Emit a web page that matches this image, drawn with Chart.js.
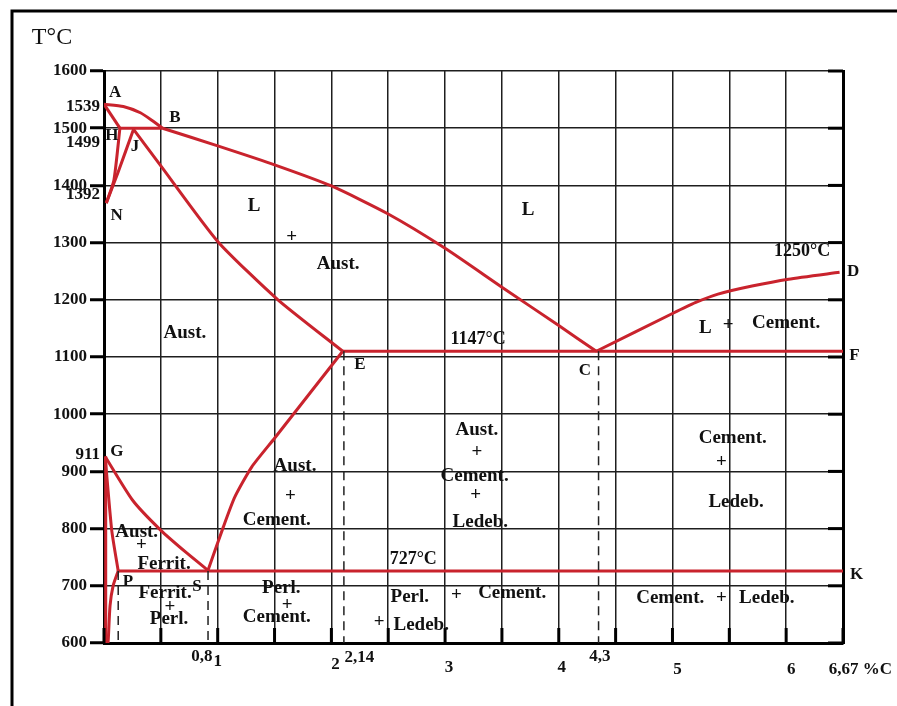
<!DOCTYPE html>
<html lang="en">
<head>
<meta charset="UTF-8">
<title>Fe - Fe3C diagram</title>
<script src="https://cdn.jsdelivr.net/npm/chart.js"></script>
<style>
  html, body { margin: 0; padding: 0; background: #fff; }
  canvas { display: block; }
</style>
</head>
<body>
<canvas id="phaseChart" width="897" height="706"></canvas>
<script>
// curves: [carbon %, temperature]
const lineAB = [[0, 1542], [0.17, 1538], [0.32, 1527], [0.42, 1514], [0.515, 1500]];
const lineAH = [[0, 1542], [0.14, 1500]];
const lineHB = [[0.14, 1500], [0.515, 1500]];
const lineHN = [[0.14, 1500], [0.087, 1409], [0.02, 1369]];
const lineJN = [[0.26, 1498], [0.12, 1421], [0.02, 1369]];
const lineJE = [[0.26, 1498], [0.5, 1434], [1.0, 1302], [1.53, 1200], [2.1, 1110]];
const lineBC = [[0.515, 1500], [1.0, 1469], [1.5, 1436], [2.0, 1399], [2.5, 1350], [3.0, 1290], [3.5, 1222], [4.0, 1155], [4.33, 1110]];
const lineCD = [[4.33, 1110], [5.0, 1176], [5.2, 1195], [5.4, 1210], [5.7, 1224], [6.02, 1236], [6.47, 1248]];
const lineEF = [[2.1, 1110], [6.5, 1110]];
const lineES = [[2.1, 1110], [1.5, 958], [1.3, 908], [1.15, 855], [1.05, 803], [0.915, 727]];
const lineGS = [[0.01, 926], [0.25, 850], [0.5, 797], [0.73, 757], [0.915, 727]];
const lineGP = [[0.01, 926], [0.068, 797], [0.125, 726]];
const linePQ = [[0.125, 726], [0.08, 700], [0.053, 665], [0.038, 607], [0.035, 600]];
const lineG0 = [[0.015, 926], [0.015, 600]];
const linePK = [[0.125, 726], [6.5, 726]];

// dashed drops to the axis
const dropX = [0.125, 0.915, 2.11, 4.35];
const dropTop = [726, 726, 1110, 1110];

// tick labels
const tempSpecial = [1539, 1499, 1392, 911];
const carbonValues = [0.8, 1, 2, 2.14, 3, 4, 4.3, 5, 6, 6.67];
const carbonLabels = ['0,8', '1', '2', '2,14', '3', '4', '4,3', '5', '6', '6,67 %C'];

// text in the fields: [text, carbon %, temperature, kind]
const fieldText = [
  ['A', 0.097, 1562, 'pt'], ['B', 0.624, 1518, 'pt'], ['H', 0.07, 1487, 'pt'], ['J', 0.273, 1468, 'pt'],
  ['N', 0.112, 1348, 'pt'], ['D', 6.59, 1249, 'pt'], ['F', 6.6, 1103, 'pt'], ['E', 2.25, 1086, 'pt'],
  ['C', 4.23, 1076, 'pt'], ['G', 0.114, 934, 'pt'], ['K', 6.62, 719, 'pt'], ['P', 0.211, 707, 'pt'],
  ['S', 0.818, 698, 'pt'],
  ['1250°C', 6.14, 1284, 't'], ['1147°C', 3.29, 1131, 't'], ['727°C', 2.72, 747, 't'],
  ['L', 1.32, 1364, 'w'], ['+', 1.65, 1310, 'w'], ['Aust.', 2.06, 1263, 'w'],
  ['L', 3.73, 1357, 'w'],
  ['Aust.', 0.712, 1142, 'w'],
  ['L', 5.29, 1151, 'w'], ['+', 5.49, 1156, 'w'], ['Cement.', 6.0, 1160, 'w'],
  ['Aust.', 3.28, 972, 'w'], ['+', 3.28, 934, 'w'], ['Cement.', 3.26, 891, 'w'], ['+', 3.27, 859, 'w'], ['Ledeb.', 3.31, 812, 'w'],
  ['Cement.', 5.53, 959, 'w'], ['+', 5.43, 917, 'w'], ['Ledeb.', 5.56, 847, 'w'],
  ['Aust.', 1.68, 909, 'w'], ['+', 1.64, 857, 'w'], ['Cement.', 1.52, 814, 'w'],
  ['Aust.', 0.288, 794, 'w'], ['+', 0.33, 771, 'w'], ['Ferrit.', 0.528, 738, 'w'],
  ['Ferrit.', 0.537, 687, 'w'], ['+', 0.58, 663, 'w'], ['Perl.', 0.572, 642, 'w'],
  ['Perl.', 1.56, 696, 'w'], ['+', 1.61, 666, 'w'], ['Cement.', 1.52, 646, 'w'],
  ['Perl.', 2.69, 680, 'w'], ['+', 3.1, 684, 'w'], ['Cement.', 3.59, 688, 'w'],
  ['+', 2.42, 636, 'w'], ['Ledeb.', 2.79, 631, 'w'],
  ['Cement.', 4.98, 679, 'w'], ['+', 5.43, 679, 'w'], ['Ledeb.', 5.83, 679, 'w']
];

const red = '#c9232d';
const serif = '"Liberation Serif", "DejaVu Serif", serif';

function toPoints(arr) {
  return arr.map(p => ({ x: p[0], y: p[1] }));
}

function redLine(arr, tension) {
  return {
    data: toPoints(arr),
    showLine: true,
    borderColor: red,
    borderWidth: 3,
    pointRadius: 0,
    tension: tension || 0
  };
}

const datasets = [];
dropX.forEach((x, i) => {
  datasets.push({
    data: [{ x: x, y: dropTop[i] }, { x: x, y: 600 }],
    showLine: true,
    borderColor: '#222',
    borderWidth: 1.5,
    borderDash: [9, 6],
    pointRadius: 0
  });
});
datasets.push(
  redLine(lineAB, 0.2), redLine(lineAH), redLine(lineHB), redLine(lineHN, 0.2), redLine(lineJN, 0.1),
  redLine(lineJE, 0.2), redLine(lineBC, 0.2), redLine(lineCD, 0.2), redLine(lineEF),
  redLine(lineES, 0.2), redLine(lineGS, 0.2), redLine(lineGP, 0.2), redLine(linePQ, 0.2),
  redLine(lineG0), redLine(linePK)
);

// frame, title, inner tick marks and all free text
const extras = {
  id: 'extras',
  beforeDraw(chart) {
    const ctx = chart.ctx;
    ctx.save();
    ctx.fillStyle = '#fff';
    ctx.fillRect(0, 0, chart.width, chart.height);
    ctx.strokeStyle = '#000';
    ctx.lineWidth = 3;
    ctx.beginPath();
    ctx.moveTo(12, chart.height);
    ctx.lineTo(12, 11);
    ctx.lineTo(chart.width, 11);
    ctx.stroke();
    ctx.fillStyle = '#111';
    ctx.font = '24px ' + serif;
    ctx.textAlign = 'center';
    ctx.textBaseline = 'middle';
    ctx.fillText('T°C', 52, 38);
    ctx.restore();
  },
  afterDraw(chart) {
    const ctx = chart.ctx;
    const xs = chart.scales.x, ys = chart.scales.y;
    const area = chart.chartArea;
    ctx.save();
    ctx.strokeStyle = '#000';
    // short marks inside the bottom and right edges
    ctx.lineWidth = 3;
    xs.ticks.forEach(t => {
      const px = xs.getPixelForValue(t.value);
      ctx.beginPath();
      ctx.moveTo(px, area.bottom);
      ctx.lineTo(px, area.bottom - 15);
      ctx.stroke();
    });
    ys.ticks.forEach(t => {
      const py = ys.getPixelForValue(t.value);
      ctx.beginPath();
      ctx.moveTo(area.right, py);
      ctx.lineTo(area.right - 15, py);
      ctx.stroke();
    });

    ctx.fillStyle = '#111';
    ctx.textBaseline = 'middle';

    // odd temperatures beside the axis
    const specialNudge = [1, 14, 5, -10];
    ctx.font = 'bold 17px ' + serif;
    ctx.textAlign = 'right';
    tempSpecial.forEach((v, i) => {
      ctx.fillText(String(v), area.left - 4, ys.getPixelForValue(v) + specialNudge[i]);
    });

    // carbon labels under the axis
    const carbonNudge = [[7, 14], [0, 19], [4, 22], [12, 15], [4, 25], [3, 25], [7, 14], [5, 27], [5, 27], [-2, 27]];
    ctx.textAlign = 'center';
    carbonValues.forEach((v, i) => {
      ctx.fillText(carbonLabels[i], xs.getPixelForValue(v) + carbonNudge[i][0], area.bottom + carbonNudge[i][1]);
    });

    // labels in the fields
    const fonts = { pt: 'bold 17px ', t: 'bold 18px ', w: 'bold 19px ' };
    fieldText.forEach(f => {
      ctx.font = fonts[f[3]] + serif;
      ctx.fillText(f[0], xs.getPixelForValue(f[1]), ys.getPixelForValue(f[2]));
    });
    ctx.restore();
  }
};

new Chart(document.getElementById('phaseChart').getContext('2d'), {
  type: 'scatter',
  data: { datasets: datasets },
  options: {
    responsive: false,
    animation: false,
    layout: { padding: { top: 71, right: 54, bottom: 63, left: 0 } },
    plugins: { legend: { display: false }, tooltip: { enabled: false } },
    scales: {
      x: {
        type: 'linear',
        min: 0,
        max: 6.5,
        ticks: { display: false, stepSize: 0.5 },
        grid: { color: '#1e1e1e', lineWidth: 1.5, drawTicks: false },
        border: { display: true, color: '#000', width: 3 },
        afterFit: s => { s.height = 0; }
      },
      y: {
        type: 'linear',
        min: 600,
        max: 1600,
        ticks: {
          stepSize: 100,
          color: '#111',
          padding: 3,
          font: { family: serif, size: 17, weight: 'bold' },
          callback: v => String(v)
        },
        grid: { color: '#1e1e1e', lineWidth: 1.5, tickLength: 14, tickWidth: 3, tickColor: '#000' },
        border: { color: '#000', width: 3 },
        afterFit: s => { s.width = 104; }
      },
      yRight: {
        type: 'linear',
        position: 'right',
        min: 600,
        max: 1600,
        ticks: { display: false },
        grid: { drawOnChartArea: false, drawTicks: false },
        border: { color: '#000', width: 3 },
        afterFit: s => { s.width = 0; }
      }
    }
  },
  plugins: [extras]
});
</script>
</body>
</html>
